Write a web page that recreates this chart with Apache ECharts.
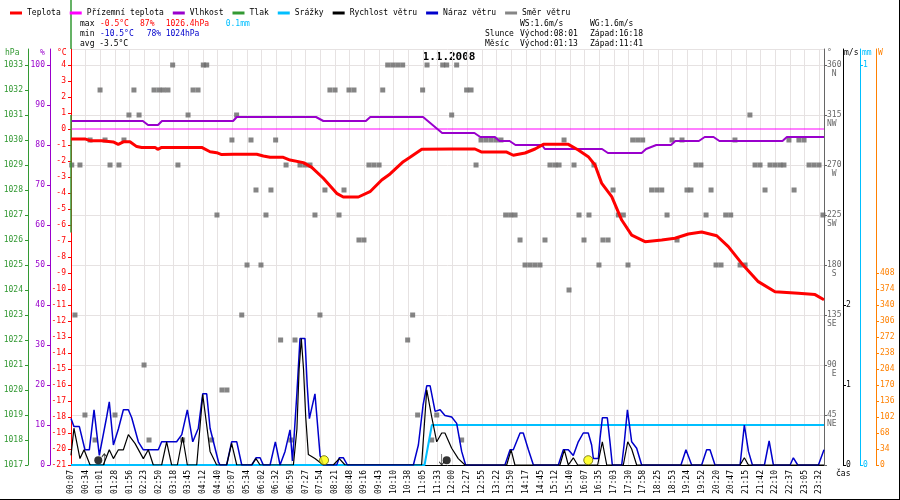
<!DOCTYPE html>
<html>
<head>
<meta charset="utf-8">
<script src="https://cdn.jsdelivr.net/npm/echarts@6/dist/echarts.min.js"></script>
<style>
  html, body { margin: 0; padding: 0; background: #fff; }
  #chart { width: 900px; height: 500px; }
</style>
</head>
<body>
<div id="chart"></div>
<script>
// x values are positions along the time axis, counted in tick labels (0 = 00:07 ... 51 = 23:32)
const timeLabels = ['00:07','00:34','01:01','01:28','01:56','02:23','02:50','03:18','03:45','04:12',
  '04:40','05:07','05:34','06:02','06:32','06:59','07:27','07:54','08:21','08:48',
  '09:16','09:43','10:10','10:38','11:05','11:33','12:00','12:27','12:55','13:22',
  '13:50','14:17','14:45','15:12','15:40','16:07','16:35','17:03','17:30','17:58',
  '18:25','18:53','19:24','19:52','20:20','20:47','21:15','21:42','22:10','22:37',
  '23:05','23:32'];

const tempData = [[0,-0.62],[0.95,-0.62],[1.3,-0.73],[2.09,-0.73],[2.2,-0.81],[2.88,-0.81],[3.22,-0.96],
  [3.57,-0.8],[4.02,-0.8],[4.48,-1.1],[4.82,-1.15],[5.73,-1.15],[5.91,-1.27],[6.18,-1.15],[8.91,-1.15],
  [9.48,-1.42],[9.93,-1.48],[10.27,-1.6],[11.07,-1.58],[12.66,-1.58],[13.11,-1.69],[13.57,-1.77],
  [14.47,-1.77],[14.93,-1.94],[15.84,-2.1],[16.41,-2.4],[17.2,-3.08],[18.11,-4.02],[18.56,-4.25],
  [19.59,-4.25],[20.38,-3.92],[21.18,-3.19],[21.75,-2.81],[22.65,-2.04],[23.11,-1.77],[23.91,-1.27],
  [25.84,-1.25],[27.54,-1.25],[28.0,-1.44],[29.7,-1.44],[30.15,-1.64],[30.95,-1.5],[31.63,-1.25],
  [32.2,-0.96],[33.9,-0.96],[34.58,-1.31],[35.26,-1.73],[35.72,-2.25],[36.18,-3.4],[36.86,-4.23],
  [37.54,-5.69],[38.22,-6.63],[39.13,-7.04],[40.27,-6.94],[41.17,-6.83],[42.08,-6.56],[42.99,-6.44],
  [44.02,-6.67],[44.81,-7.35],[45.72,-8.4],[46.85,-9.54],[47.99,-10.17],[49.58,-10.27],[50.72,-10.35],
  [51.33,-10.67]];

const feelData = [[0,0],[51.33,0]];

const humData = [[0,86],[4.9,86],[5.25,85],[5.93,85],[6.2,86],[11.05,86],[11.3,87],[16.7,87],[17.2,86],
  [20.1,86],[20.4,87],[24.0,87],[25.3,83],[27.5,83],[27.9,82],[28.9,82],[29.2,81],[29.9,81],[30.3,80],
  [32.1,80],[32.3,79],[36.2,79],[36.6,78],[38.9,78],[39.2,79],[39.9,80],[40.9,80],[41.2,81],[42.8,81],
  [43.2,82],[43.8,82],[44.2,81],[48.5,81],[48.8,82],[51.33,82]];

const pressData = [[0,1036],[0,1033.64],[0,'-'],[0,1031],[0,1026.3]];

const rainData = [[0,0],[24.1,0],[24.6,0.1],[51.33,0.1]];

const windSpeed = [[0,0.12],[0.2,0.46],[0.61,0.08],[0.89,0.19],[1.3,0],[2.2,0],[2.61,0.19],[2.89,0.08],
  [3.23,0.19],[3.57,0.19],[3.91,0.38],[4.36,0.27],[4.93,0.08],[5.27,0.19],[5.61,0],[6.18,0],[6.52,0.29],
  [6.86,0],[7.25,0],[7.61,0.35],[7.93,0],[8.57,0],[8.98,0.88],[9.48,0.17],[9.93,0],[10.61,0],[10.95,0.27],
  [11.3,0],[12.32,0],[12.61,0.08],[12.89,0],[15.16,0],[15.4,0.45],[15.55,1.2],[15.7,1.58],[15.85,1.2],
  [16.0,0.6],[16.18,0.13],[16.63,0.08],[17.2,0],[17.88,0],[18.29,0.08],[18.68,0],[23.9,0],[24.25,0.94],
  [24.59,0.6],[24.93,0.29],[25.27,0.4],[25.49,0.4],[25.95,0.21],[26.4,0.08],[26.86,0],[29.7,0],[30.0,0.19],
  [30.26,0],[33.33,0],[33.63,0.19],[33.9,0],[34.24,0.09],[34.54,0],[35.9,0],[36.22,0.29],[36.52,0],
  [37.65,0],[37.95,0.29],[38.22,0.2],[38.56,0],[45.61,0],[45.9,0.09],[46.18,0],[51.33,0]];

const windGust = [[0,0.58],[0.2,0.48],[0.57,0.48],[0.95,0.19],[1.25,0.19],[1.57,0.69],[1.93,0.12],
  [2.43,0.6],[2.61,0.79],[2.89,0.25],[3.23,0.45],[3.57,0.69],[3.91,0.69],[4.14,0.59],[4.59,0.29],
  [4.93,0.19],[5.95,0.19],[6.18,0.29],[7.2,0.29],[7.55,0.38],[7.93,0.69],[8.3,0.29],[8.68,0.46],
  [8.98,0.89],[9.25,0.89],[9.48,0.46],[10.05,0.04],[10.16,0],[10.61,0],[10.95,0.29],[11.3,0.29],
  [11.64,0],[12.32,0],[12.61,0.09],[12.89,0.09],[13.11,0],[13.57,0],[13.93,0.29],[14.25,0],[14.59,0.17],
  [14.93,0.44],[15.1,0.05],[15.4,0.9],[15.61,1.58],[15.95,1.58],[16.1,1.0],[16.25,0.58],[16.63,0.89],
  [16.98,0.12],[17.2,0],[18.11,0],[18.29,0.09],[18.57,0.09],[18.84,0],[23.34,0],[23.68,0.25],[24.0,0.75],
  [24.25,0.99],[24.48,0.99],[24.82,0.67],[25.16,0.69],[25.49,0.62],[25.95,0.6],[26.29,0.52],[26.63,0.17],
  [26.9,0],[29.58,0],[29.93,0.19],[30.15,0.19],[30.61,0.4],[30.83,0.4],[31.18,0.19],[31.52,0],[33.22,0],
  [33.56,0.19],[33.9,0.19],[34.24,0.12],[34.58,0.29],[34.92,0.4],[35.26,0.4],[35.49,0.25],[35.61,0.08],
  [35.95,0.08],[36.06,0.33],[36.22,0.59],[36.56,0.59],[36.74,0.29],[36.9,0],[37.54,0],[37.7,0.25],
  [37.93,0.69],[38.22,0.29],[38.56,0.21],[38.9,0],[41.58,0],[41.92,0.19],[42.31,0],[42.99,0],[43.33,0.19],
  [43.56,0.19],[43.9,0],[45.61,0],[45.9,0.5],[46.18,0.17],[46.45,0],[47.27,0],[47.59,0.3],[47.88,0],
  [49.02,0],[49.24,0.09],[49.54,0],[50.95,0],[51.33,0.19]];

// wind direction: degrees -> positions where a sample was drawn
const dirRows = [
  [360, [6.93,9.02,9.25,21.59,21.93,22.27,22.61,24.27,25.34,25.61,26.29]],
  [337.5, [1.98,4.29,5.66,6.0,6.29,6.61,8.32,8.66,17.65,18.0,18.95,19.29,21.25,23.97,26.97,27.27]],
  [315, [3.95,4.64,7.98,11.29,25.95,46.28]],
  [292.5, [1.3,2.32,3.61,10.97,12.27,13.95,27.95,28.29,28.63,28.97,29.31,33.61,38.29,38.63,38.97,40.97,41.65,45.26,48.94,49.62,49.97]],
  [270, [0.05,0.61,2.66,3.27,7.29,14.66,15.61,15.95,16.29,20.31,20.65,21.0,27.61,32.65,32.99,33.27,34.29,35.65,42.6,42.94,46.63,46.97,47.65,47.99,48.33,48.6,50.31,50.65,50.99]],
  [247.5, [12.61,13.63,17.31,18.61,36.95,39.58,39.93,40.27,41.99,42.26,43.63,47.31,49.29]],
  [225, [9.95,13.29,16.63,18.27,29.63,29.97,30.27,34.63,35.31,37.31,37.65,40.63,43.29,44.63,44.97,51.26]],
  [202.5, [19.63,19.97,30.61,32.31,34.97,36.26,36.61,41.31]],
  [180, [12.0,12.95,30.95,31.29,31.63,31.97,35.99,37.97,43.97,44.31,45.61,45.95]],
  [157.5, [33.95]],
  [135, [0.27,11.64,16.97,23.29]],
  [112.5, [14.29,15.27,22.95]],
  [90, [4.98]],
  [67.5, [10.29,10.63]],
  [45, [0.95,3.0,23.63,24.93]],
  [22.5, [1.64,5.32,7.61,9.59,14.98,24.59,26.63]]
];

const moonPoints = [[1.86,0.06],[25.61,0.06]];
const sunPoints = [[17.25,0.06],[35.26,0.06]];
const moonRise = [[2.27,0.07]];
const moonSet = [[25.27,0.07]];

const dirNames = {360:'N',315:'NW',270:'W',225:'SW',180:'S',135:'SE',90:'E',45:'NE'};
const wattTicks = [0,34,68,102,136,170,204,238,272,306,340,374,408];

const dirData = [];
dirRows.forEach(function (row) {
  row[1].forEach(function (x) { dirData.push([x, row[0]]); });
});

const MONO = '"DejaVu Sans Mono", monospace';
const RED = '#ff0000', PURPLE = '#9900cc', GREEN = '#339933', MAGENTA = '#ff00ff',
  CYAN = '#00bfff', BLUE = '#0000cc', GRAY = '#666666', ORANGE = '#ff8000';

function yAxis(pos, offset, color, min, max, extra) {
  const ax = {
    type: 'value', position: pos, offset: offset, min: min, max: max,
    axisLine: { show: true, onZero: false, lineStyle: { color: color, width: 1 } },
    axisTick: { show: true, length: 3, lineStyle: { color: color } },
    axisLabel: {
      color: color, fontSize: 8, fontFamily: MONO, margin: 5, showMaxLabel: false,
      formatter: function (v) { return String(v); }
    },
    splitLine: { show: false }
  };
  return Object.assign(ax, extra || {});
}

function txt(x, y, text, fill, extra) {
  return {
    type: 'text', x: x, y: y, silent: true,
    style: Object.assign({ text: text, fill: fill, font: '8px ' + MONO, verticalAlign: 'middle' }, extra || {})
  };
}

const chart = echarts.init(document.getElementById('chart'), null, { renderer: 'canvas' });

const option = {
  animation: false,
  backgroundColor: '#fff',
  legend: {
    data: ['Teplota','Přízemní teplota','Vlhkost','Tlak','Srážky','Rychlost větru','Náraz větru','Směr větru'],
    left: 5, top: 4, icon: 'rect', itemWidth: 12, itemHeight: 3, itemGap: 9,
    textStyle: { fontSize: 8, fontFamily: MONO, color: '#000' },
    selectedMode: false
  },
  grid: { left: 71, right: 76, top: 49, bottom: 35, outerBoundsMode: 'none' },
  xAxis: {
    type: 'value', min: 0, max: 51.33, interval: 1,
    axisLine: { onZero: false, lineStyle: { color: '#000', width: 1 } },
    axisTick: { show: false },
    splitLine: { show: true, lineStyle: { color: '#e6e2e2', width: 1 } },
    axisLabel: {
      rotate: 90, fontSize: 8, fontFamily: MONO, color: '#000', margin: 5, showMaxLabel: false,
      formatter: function (v) {
        const i = Math.round(v);
        return Math.abs(v - i) < 1e-6 && timeLabels[i] ? timeLabels[i] : '';
      }
    }
  },
  yAxis: [
    yAxis('left', 0, RED, -21, 5, { interval: 1 }),
    yAxis('left', 21, PURPLE, 0, 104, { interval: 10 }),
    yAxis('left', 43, GREEN, 1017, 1017 + 416 / 25, { interval: 1 }),
    yAxis('right', 0, GRAY, 0, 374.4, {
      interval: 45,
      splitLine: { show: true, lineStyle: { color: '#e6e2e2', width: 1 } },
      axisLabel: {
        color: GRAY, fontSize: 8, fontFamily: MONO, margin: 3, lineHeight: 9, showMaxLabel: false,
        formatter: function (v) {
          const n = dirNames[v];
          if (!n) return '';
          return '\n' + v + '\n' + (n.length === 1 ? ' ' + n : n);
        }
      }
    }),
    yAxis('right', 19, '#000', 0, 5.2, {
      axisTick: { show: true, length: 3, customValues: [0, 1, 2], lineStyle: { color: '#000' } },
      axisLabel: { color: '#000', fontSize: 8, fontFamily: MONO, margin: 3, customValues: [0, 1, 2] }
    }),
    yAxis('right', 36, CYAN, 0, 1.04, {
      axisTick: { show: true, length: 3, customValues: [0, 1], lineStyle: { color: CYAN } },
      axisLabel: { color: CYAN, fontSize: 8, fontFamily: MONO, margin: 3, customValues: [0, 1] }
    }),
    yAxis('right', 52, ORANGE, 0, 884, {
      axisTick: { show: true, length: 3, customValues: wattTicks, lineStyle: { color: ORANGE } },
      axisLabel: { color: ORANGE, fontSize: 8, fontFamily: MONO, margin: 4, customValues: wattTicks }
    })
  ],
  series: [
    {
      name: 'Směr větru', type: 'scatter', yAxisIndex: 3, data: dirData,
      symbol: 'rect', symbolSize: 5, itemStyle: { color: GRAY }, z: 1
    },
    {
      name: 'Přízemní teplota', type: 'line', yAxisIndex: 0, data: feelData,
      showSymbol: false, lineStyle: { color: MAGENTA, width: 1 }, itemStyle: { color: MAGENTA }
    },
    {
      name: 'Vlhkost', type: 'line', yAxisIndex: 1, data: humData,
      showSymbol: false, lineStyle: { color: PURPLE, width: 2 }, itemStyle: { color: PURPLE }
    },
    {
      name: 'Tlak', type: 'line', yAxisIndex: 2, data: pressData, clip: false, connectNulls: false,
      showSymbol: false, lineStyle: { color: GREEN, width: 1.5 }, itemStyle: { color: GREEN }
    },
    {
      name: 'Teplota', type: 'line', yAxisIndex: 0, data: tempData,
      showSymbol: false, lineStyle: { color: RED, width: 3 }, itemStyle: { color: RED }
    },
    {
      name: 'Srážky', type: 'line', yAxisIndex: 5, data: rainData,
      showSymbol: false, lineStyle: { color: CYAN, width: 2 }, itemStyle: { color: CYAN }
    },
    {
      name: 'Náraz větru', type: 'line', yAxisIndex: 4, data: windGust,
      showSymbol: false, lineStyle: { color: BLUE, width: 1.5 }, itemStyle: { color: BLUE }
    },
    {
      name: 'Rychlost větru', type: 'line', yAxisIndex: 4, data: windSpeed,
      showSymbol: false, lineStyle: { color: '#000', width: 1.2 }, itemStyle: { color: '#000' }
    },
    {
      name: 'Měsíc', type: 'scatter', yAxisIndex: 4, data: moonPoints,
      symbolSize: 8, itemStyle: { color: '#000' }, z: 5
    },
    {
      name: 'Slunce', type: 'scatter', yAxisIndex: 4, data: sunPoints,
      symbolSize: 9, itemStyle: { color: '#ffff00', borderColor: '#666600', borderWidth: 1 }, z: 5
    },
    {
      name: 'Východ měsíce', type: 'scatter', yAxisIndex: 4, data: moonRise,
      symbol: 'path://M5,0 L5,22 M1,6 L5,0 L9,6', symbolSize: [5, 11], symbolKeepAspect: false,
      itemStyle: { color: 'none', borderColor: '#000', borderWidth: 1 }, z: 5
    },
    {
      name: 'Západ měsíce', type: 'scatter', yAxisIndex: 4, data: moonSet,
      symbol: 'path://M5,0 L5,22 M1,16 L5,22 L9,16', symbolSize: [5, 11], symbolKeepAspect: false,
      itemStyle: { color: 'none', borderColor: '#000', borderWidth: 1 }, z: 5
    }
  ],
  graphic: [
    // stats block
    txt(80, 24, 'max', '#000'), txt(100, 24, '-0.5°C', RED), txt(140, 24, '87%', RED),
    txt(165.7, 24, '1026.4hPa', RED), txt(225.7, 24, '0.1mm', CYAN),
    txt(80, 34, 'min', '#000'), txt(100, 34, '-10.5°C', BLUE), txt(146.7, 34, '78%', BLUE),
    txt(165.7, 34, '1024hPa', BLUE),
    txt(80, 44, 'avg -3.5°C', '#000'),
    txt(520, 24, 'WS:1.6m/s', '#000'), txt(590, 24, 'WG:1.6m/s', '#000'),
    txt(485, 34, 'Slunce', '#000'), txt(520, 34, 'Východ:08:01', '#000'), txt(590, 34, 'Západ:16:18', '#000'),
    txt(485, 44, 'Měsíc', '#000'), txt(520, 44, 'Východ:01:13', '#000'), txt(590, 44, 'Západ:11:41', '#000'),
    // title
    txt(449, 57, '1.1.2008', '#000', { font: 'bold 11px ' + MONO, align: 'center' }),
    // axis names
    txt(5, 53, 'hPa', GREEN), txt(40, 53, '%', PURPLE), txt(57, 53, '°C', RED),
    txt(827, 53, '°', GRAY), txt(844, 53, 'm/s', '#000'), txt(862, 53, 'mm', CYAN), txt(878, 53, 'W', ORANGE),
    txt(836, 474, 'čas', '#000'),
    // frame
    { type: 'line', silent: true, shape: { x1: 899.5, y1: 0, x2: 899.5, y2: 500 }, style: { stroke: '#000', lineWidth: 1 } },
    { type: 'line', silent: true, shape: { x1: 0, y1: 499.5, x2: 900, y2: 499.5 }, style: { stroke: '#000', lineWidth: 1 } }
  ]
};

chart.setOption(option);
</script>
</body>
</html>
